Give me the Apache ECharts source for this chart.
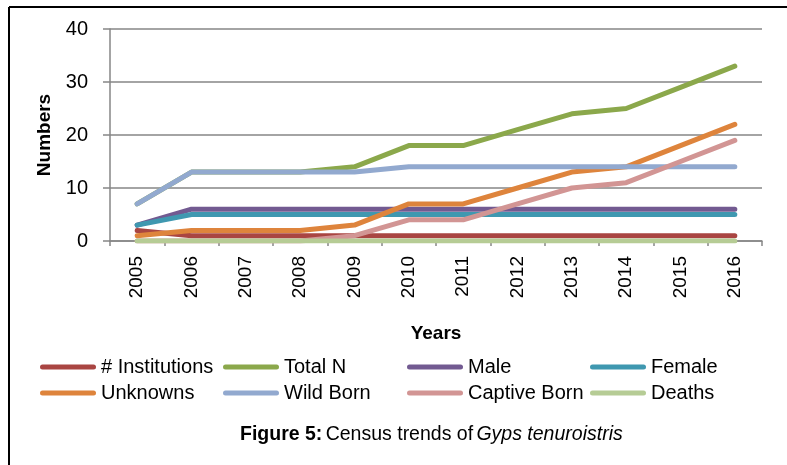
<!DOCTYPE html>
<html>
<head>
<meta charset="utf-8">
<script src="https://cdn.jsdelivr.net/npm/echarts@6/dist/echarts.min.js"></script>
<style>
  html, body { margin: 0; padding: 0; background: #fff; }
  #chart { width: 787px; height: 465px; }
</style>
</head>
<body>
<div id="chart"></div>
<script>
// categories and series values
const years = ['2005', '2006', '2007', '2008', '2009', '2010', '2011', '2012', '2013', '2014', '2015', '2016']
const institutions = [2, 1, 1, 1, 1, 1, 1, 1, 1, 1, 1, 1]
const totalN = [7, 13, 13, 13, 14, 18, 18, 21, 24, 25, 29, 33]
const male = [3, 6, 6, 6, 6, 6, 6, 6, 6, 6, 6, 6]
const female = [3, 5, 5, 5, 5, 5, 5, 5, 5, 5, 5, 5]
const unknowns = [1, 2, 2, 2, 3, 7, 7, 10, 13, 14, 18, 22]
const wildBorn = [7, 13, 13, 13, 13, 14, 14, 14, 14, 14, 14, 14]
const captiveBorn = [0, 0, 0, 0, 1, 4, 4, 7, 10, 11, 15, 19]
const deaths = [0, 0, 0, 0, 0, 0, 0, 0, 0, 0, 0, 0]
const yTicks = [0, 10, 20, 30, 40]

const FONT = "'Liberation Sans', Arial, sans-serif"
const AXIS_GREY = '#868686'

const seriesList = [
  { name: '# Institutions', data: institutions, color: '#A94542' },
  { name: 'Total N', data: totalN, color: '#8BA84B' },
  { name: 'Male', data: male, color: '#725A91' },
  { name: 'Female', data: female, color: '#3F98B0' },
  { name: 'Unknowns', data: unknowns, color: '#DE843C' },
  { name: 'Wild Born', data: wildBorn, color: '#92A9CF' },
  { name: 'Captive Born', data: captiveBorn, color: '#D29594' },
  { name: 'Deaths', data: deaths, color: '#B6CC95' }
]

// legend slots: 4 columns x 2 rows
const legendCols = [40, 223, 407, 590]
const legendRows = [356, 382]
const capsule = 'path://M2.5,0 H53.5 A2.5,2.5 0 0 1 53.5,5 H2.5 A2.5,2.5 0 0 1 2.5,0 Z'

const legends = seriesList.map((s, i) => ({
  data: [s.name],
  left: legendCols[i % 4],
  top: legendRows[Math.floor(i / 4)],
  padding: 0,
  icon: capsule,
  itemWidth: 56,
  itemHeight: 5,
  selectedMode: false,
  textStyle: { fontFamily: FONT, fontSize: 20, lineHeight: 22, color: '#000' }
}))

const chart = echarts.init(document.getElementById('chart'))
chart.setOption({
  animation: false,
  backgroundColor: '#fff',
  grid: { left: 110, right: 25, top: 29, bottom: 224 },
  legend: legends,
  xAxis: {
    type: 'category',
    data: years,
    boundaryGap: true,
    name: 'Years',
    nameLocation: 'middle',
    nameGap: 83,
    nameTextStyle: { fontFamily: FONT, fontSize: 19, fontWeight: 'bold', color: '#000' },
    axisLine: { lineStyle: { color: AXIS_GREY, width: 1.5 } },
    axisTick: { show: true, alignWithLabel: false, length: 5, lineStyle: { color: AXIS_GREY, width: 1.5 } },
    axisLabel: { rotate: 90, margin: 15, fontFamily: FONT, fontSize: 19, color: '#000' },
    splitLine: { show: false }
  },
  yAxis: {
    type: 'value',
    min: yTicks[0],
    max: yTicks[yTicks.length - 1],
    interval: 10,
    name: 'Numbers',
    nameLocation: 'middle',
    nameGap: 56,
    nameTextStyle: { fontFamily: FONT, fontSize: 19, fontWeight: 'bold', color: '#000' },
    axisLine: { show: true, lineStyle: { color: AXIS_GREY, width: 1.5 } },
    axisTick: { show: true, length: 7, lineStyle: { color: AXIS_GREY, width: 1.5 } },
    axisLabel: { margin: 22, fontFamily: FONT, fontSize: 20, color: '#000' },
    splitLine: { show: true, lineStyle: { color: AXIS_GREY, width: 1.5 } }
  },
  series: seriesList.map(s => ({
    name: s.name,
    type: 'line',
    data: s.data,
    color: s.color,
    symbol: 'none',
    showSymbol: false,
    lineStyle: { width: 5, cap: 'round', join: 'round' }
  })),
  graphic: [
    // frame around the figure (cropped at right and bottom)
    { type: 'line', shape: { x1: 9, y1: 7, x2: 787, y2: 7 }, style: { stroke: '#000', lineWidth: 2 } },
    { type: 'line', shape: { x1: 9, y1: 7, x2: 9, y2: 465 }, style: { stroke: '#000', lineWidth: 2 } },
    {
      type: 'text',
      left: 240,
      top: 425,
      style: {
        text: '{b|Figure 5:} {r|Census trends of} {i|Gyps tenuroistris}',
        rich: {
          b: { fontFamily: FONT, fontSize: 19.5, fontWeight: 'bold', fill: '#000' },
          r: { fontFamily: FONT, fontSize: 19.5, fill: '#000' },
          i: { fontFamily: FONT, fontSize: 19.5, fontStyle: 'italic', fill: '#000' }
        }
      }
    }
  ]
})
</script>
</body>
</html>
